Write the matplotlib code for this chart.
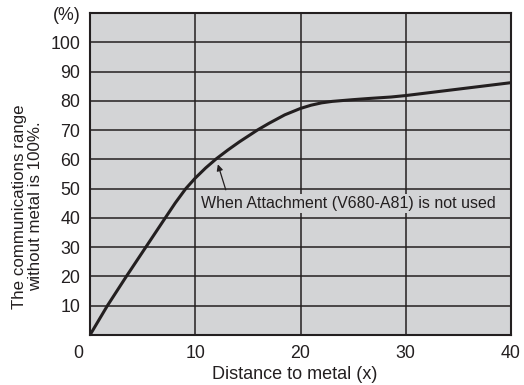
import matplotlib
matplotlib.use('Agg')
import matplotlib.pyplot as plt
from matplotlib.transforms import ScaledTranslation

plt.rcParams['font.family'] = ['Liberation Sans', 'DejaVu Sans']

# values
distance = [0, 1.65, 3.45, 5.3, 7.15, 8.1, 9.1, 10, 11, 12, 13.1, 14.2, 15.9, 17.0, 18.5, 20, 21, 22, 23, 24, 25, 26.5, 28.6, 30, 32.5, 35, 37.5, 40]
comm_range = [0, 10, 20, 30, 40, 45.1, 50, 53.6, 57.1, 60.2, 63.2, 66, 70, 72.3, 75.2, 77.4, 78.5, 79.3, 79.8, 80.1, 80.4, 80.8, 81.3, 81.8, 82.9, 84.0, 85.1, 86.2]

xticks = [0, 10, 20, 30, 40]
yticks = [10, 20, 30, 40, 50, 60, 70, 80, 90, 100, 110]
ytick_labels = ['10', '20', '30', '40', '50', '60', '70', '80', '90', '100', '(%)']

ink = '#231f20'

fig = plt.figure(figsize=(5.24, 3.85), dpi=100)
ax = fig.add_axes([90 / 524, 50 / 385, 421 / 524, 322 / 385])
ax.set_facecolor('#d3d4d6')

ax.set_xlim(0, 40)
ax.set_ylim(0, 110)
ax.set_xticks(xticks)
ax.set_yticks(yticks)
ax.set_yticklabels(ytick_labels)
ax.tick_params(length=0, labelsize=12.8, colors=ink)
ax.tick_params(axis='x', pad=7)
ax.tick_params(axis='y', pad=7)
ax.grid(True, color=ink, linewidth=1.1)
ax.set_axisbelow(True)
for s in ax.spines.values():
    s.set_linewidth(1.5)
    s.set_color(ink)

# the "0" sits left of the corner in the original
lbl0 = ax.get_xticklabels()[0]
lbl0.set_transform(lbl0.get_transform() + ScaledTranslation(-0.12, 0, fig.dpi_scale_trans))

ax.plot(distance, comm_range, color=ink, linewidth=2.2, solid_capstyle='round')

ax.text(10.5, 44.8, 'When Attachment (V680-A81) is not used', fontsize=11.5, color=ink,
        ha='left', va='center', zorder=5,
        bbox=dict(boxstyle='square,pad=0.12', fc='#d3d4d6', ec='none'))
ax.annotate('', xy=(12.15, 58.3), xytext=(12.9, 49.6),
            arrowprops=dict(arrowstyle='-|>', color=ink, lw=0.9,
                            shrinkA=0, shrinkB=0, mutation_scale=9),
            zorder=6)

ax.set_xlabel('Distance to metal (x)', fontsize=13, labelpad=2, color=ink)
ax.xaxis.set_label_coords(0.487, -0.095)
ax.set_ylabel('The communications range\nwithout metal is 100%.', fontsize=12.2,
              color=ink, linespacing=1.05)
ax.yaxis.set_label_coords(-0.112, 0.40)

fig.savefig('out.png', dpi=100, facecolor='white')
